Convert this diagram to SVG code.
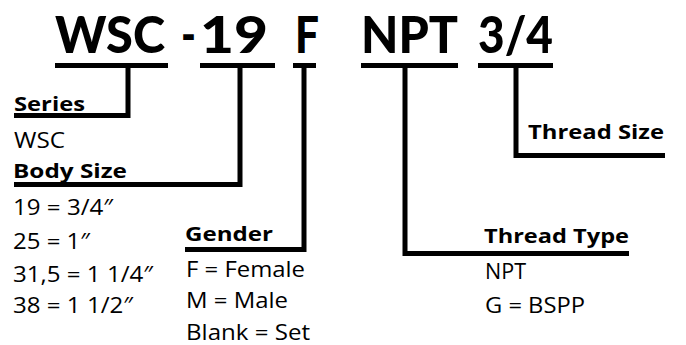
<svg xmlns="http://www.w3.org/2000/svg" width="686" height="345" viewBox="0 0 686 345">
<style>
.t{font-family:Lato,"Liberation Sans",sans-serif;font-weight:900;font-size:51px;fill:#000}
.h{font-family:"Open Sans","Liberation Sans",sans-serif;font-weight:bold;font-size:20px;fill:#000}
.r{font-family:"Open Sans","Liberation Sans",sans-serif;font-size:21px;fill:#000}
.c{fill:none;stroke:#000;stroke-width:5;stroke-linejoin:miter;stroke-linecap:butt}
</style>
<rect width="686" height="345" fill="#fff"/>
<g id="title">
<text class="t" x="55" y="53" textLength="110" lengthAdjust="spacingAndGlyphs">WSC</text>
<text class="t" x="181" y="53" textLength="15" lengthAdjust="spacingAndGlyphs">-</text>
<text class="t" x="200" y="53" textLength="68" lengthAdjust="spacingAndGlyphs">19</text>
<text class="t" x="295" y="53" textLength="24" lengthAdjust="spacingAndGlyphs">F</text>
<text class="t" x="361" y="53" textLength="97" lengthAdjust="spacingAndGlyphs">NPT</text>
<text class="t" x="478" y="53" textLength="75" lengthAdjust="spacingAndGlyphs">3/4</text>
</g>
<g id="connectors">
<path class="c" d="M55 65.5H168M128 65.5V115.5H14"/>
<path class="c" d="M200 65.5H275M240 65.5V184.5H14"/>
<path class="c" d="M293 65.5H316M304 65.5V249.5H185"/>
<path class="c" d="M361 65.5H458M405 65.5V253.5H629"/>
<path class="c" d="M478 65.5H553M516 65.5V155.5H665"/>
</g>
<g id="series">
<text class="h" x="14" y="111" textLength="71" lengthAdjust="spacingAndGlyphs">Series</text>
<text class="r" x="14" y="148" textLength="51" lengthAdjust="spacingAndGlyphs">WSC</text>
</g>
<g id="body-size">
<text class="h" x="13" y="178" textLength="114" lengthAdjust="spacingAndGlyphs">Body Size</text>
<text class="r" x="13" y="215" textLength="100" lengthAdjust="spacingAndGlyphs">19 = 3/4″</text>
<text class="r" x="13" y="249" textLength="77" lengthAdjust="spacingAndGlyphs">25 = 1″</text>
<text class="r" x="13" y="282" textLength="140" lengthAdjust="spacingAndGlyphs">31,5 = 1 1/4″</text>
<text class="r" x="13" y="313" textLength="120" lengthAdjust="spacingAndGlyphs">38 = 1 1/2″</text>
</g>
<g id="gender">
<text class="h" x="185" y="241" textLength="88" lengthAdjust="spacingAndGlyphs">Gender</text>
<text class="r" x="186" y="277" textLength="119" lengthAdjust="spacingAndGlyphs">F = Female</text>
<text class="r" x="186" y="308" textLength="102" lengthAdjust="spacingAndGlyphs">M = Male</text>
<text class="r" x="186" y="340" textLength="124" lengthAdjust="spacingAndGlyphs">Blank = Set</text>
</g>
<g id="thread-type">
<text class="h" x="484" y="243" textLength="145" lengthAdjust="spacingAndGlyphs">Thread Type</text>
<text class="r" x="485" y="279" textLength="41" lengthAdjust="spacingAndGlyphs">NPT</text>
<text class="r" x="485" y="313" textLength="100" lengthAdjust="spacingAndGlyphs">G = BSPP</text>
</g>
<g id="thread-size">
<text class="h" x="528" y="139" textLength="136" lengthAdjust="spacingAndGlyphs">Thread Size</text>
</g>
</svg>
